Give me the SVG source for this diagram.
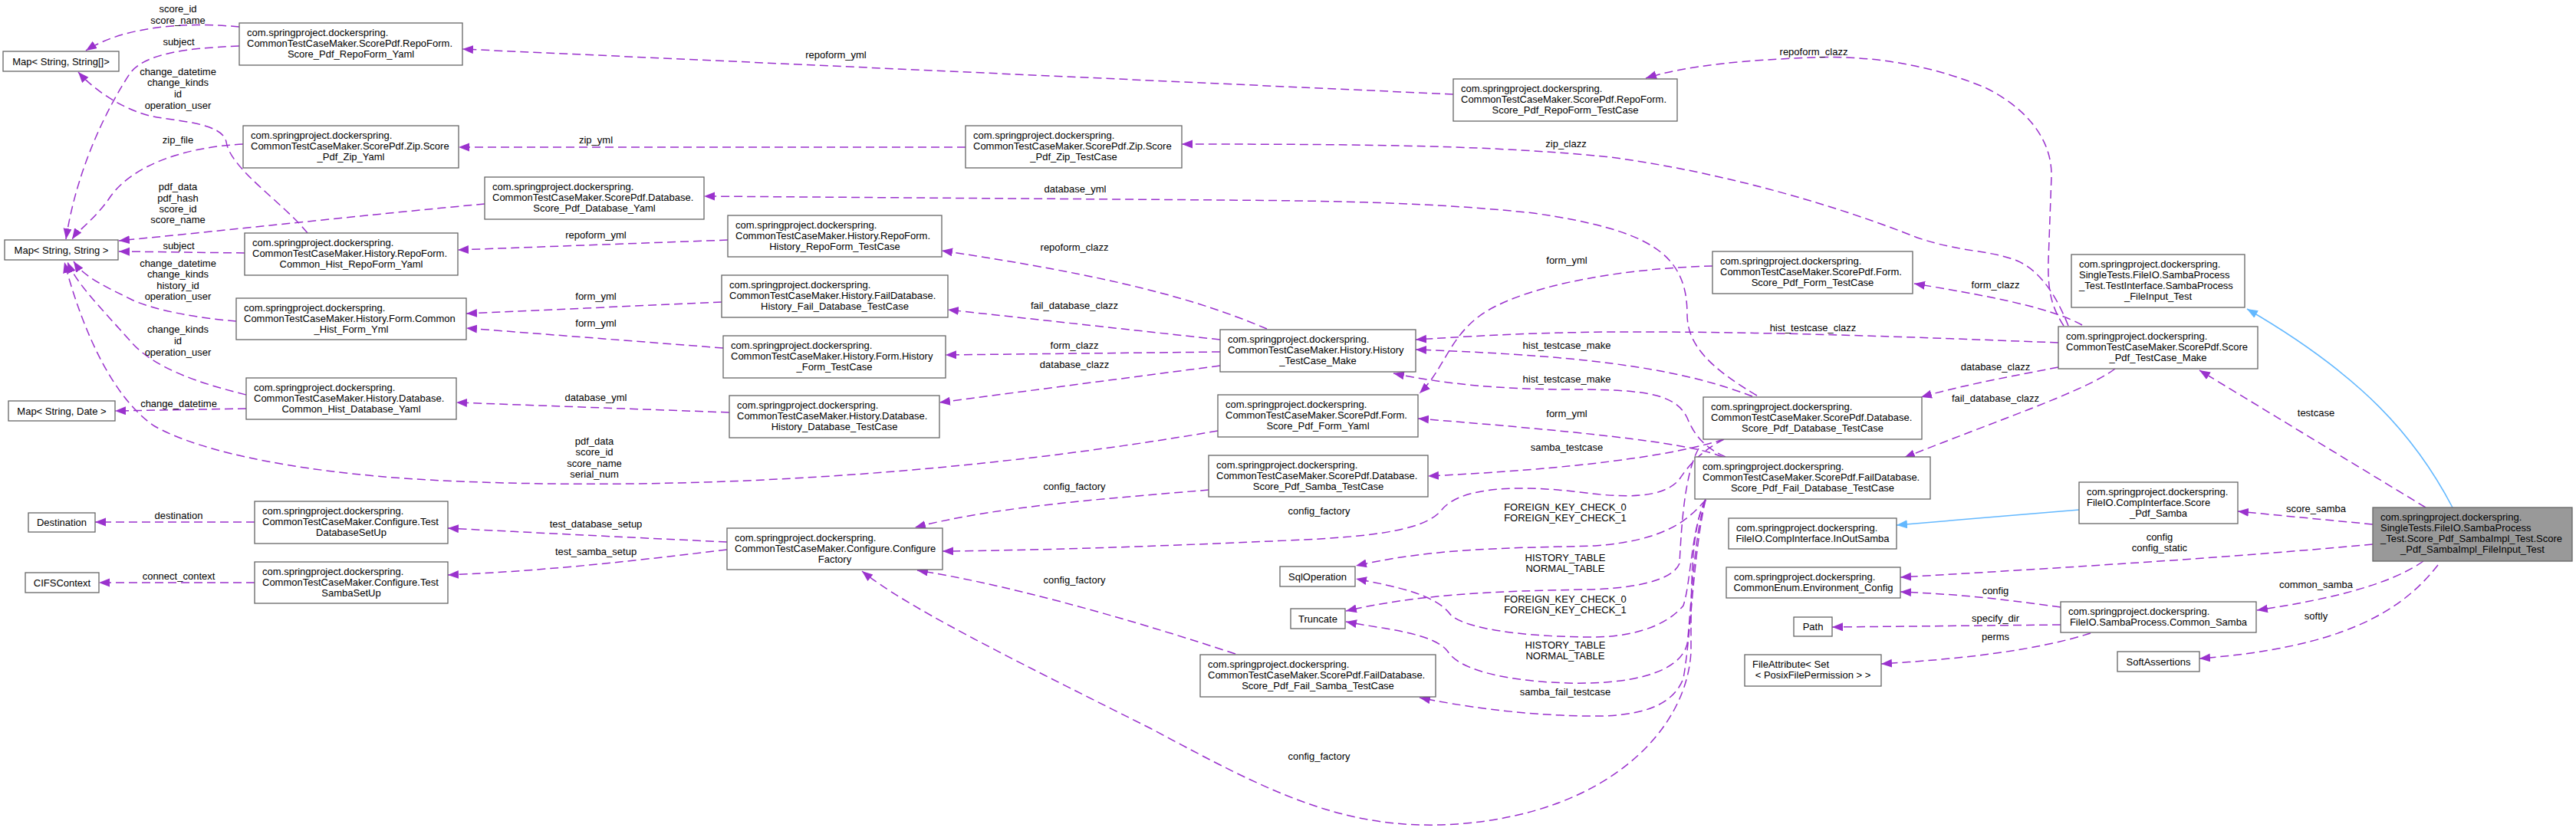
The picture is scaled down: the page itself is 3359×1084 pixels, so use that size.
<svg xmlns="http://www.w3.org/2000/svg" width="3359" height="1084" viewBox="0 0 3359 1084">
<style>
text{font-family:"Liberation Sans",Arial,sans-serif;font-size:13px;fill:#000}
.n rect{fill:#fff;stroke:#666;stroke-width:1.3}
.main rect{fill:#999;stroke:#666;stroke-width:1.3}
.c{text-anchor:middle}
.e{fill:none;stroke:#9a32cd;stroke-width:1.5;stroke-dasharray:11,6;marker-end:url(#ah)}
.i{fill:none;stroke:#63b8ff;stroke-width:1.5;marker-end:url(#ih)}
.el{text-anchor:middle}
</style>
<defs>
<marker id="ah" markerUnits="userSpaceOnUse" markerWidth="15" markerHeight="12" refX="14" refY="5.5" orient="auto"><path d="M0,0 L14,5.5 L0,11 z" fill="#9a32cd"/></marker>
<marker id="ih" markerUnits="userSpaceOnUse" markerWidth="15" markerHeight="12" refX="14" refY="5.5" orient="auto"><path d="M0,0 L14,5.5 L0,11 z" fill="#63b8ff"/></marker>
</defs>
<rect width="3359" height="1084" fill="#fff"/>
<g id="edges">
<path class="e" d="M312,35 C240,28 160,35 112,66"/>
<text class="el" x="232" y="16">score_id</text><text class="el" x="232" y="31">score_name</text>
<path class="e" d="M312,60 C240,63 190,70 170,95 C140,140 100,220 86,312"/>
<text class="el" x="233" y="59">subject</text>
<path class="e" d="M401,304 C370,265 300,220 295,185 C290,160 230,158 200,152 C165,145 125,120 102,94"/>
<text class="el" x="232" y="97.5">change_datetime</text><text class="el" x="232" y="112">change_kinds</text><text class="el" x="232" y="127">id</text><text class="el" x="232" y="141.5">operation_user</text>
<path class="e" d="M317,188 C240,192 175,215 145,255 C125,285 102,300 94,312"/>
<text class="el" x="232" y="187">zip_file</text>
<path class="e" d="M632,266 C480,280 300,300 155,314"/>
<text class="el" x="232" y="248">pdf_data</text><text class="el" x="232" y="263">pdf_hash</text><text class="el" x="232" y="277">score_id</text><text class="el" x="232" y="291">score_name</text>
<path class="e" d="M319,330 L155,328"/>
<text class="el" x="233" y="325">subject</text>
<path class="e" d="M308,419 C260,415 200,405 170,390 C140,375 110,362 96,341"/>
<text class="el" x="232" y="347.5">change_datetime</text><text class="el" x="232" y="362">change_kinds</text><text class="el" x="232" y="376.5">history_id</text><text class="el" x="232" y="391">operation_user</text>
<path class="e" d="M321,515 C260,500 200,480 170,445 C130,400 100,370 88,342"/>
<text class="el" x="232" y="433.5">change_kinds</text><text class="el" x="232" y="448.5">id</text><text class="el" x="232" y="463.5">operation_user</text>
<path class="e" d="M321,533 L150,536"/>
<text class="el" x="233" y="530.5">change_datetime</text>
<path class="e" d="M1588,562 C1250,620 900,640 600,628 C400,620 260,590 200,555 C150,520 110,440 84,342"/>
<text class="el" x="775" y="579.5">pdf_data</text><text class="el" x="775" y="594">score_id</text><text class="el" x="775" y="608.5">score_name</text><text class="el" x="775" y="623">serial_num</text>
<path class="e" d="M1895,123 L603,64"/>
<text class="el" x="1090" y="76">repoform_yml</text>
<path class="e" d="M1259,192 L598,192"/>
<text class="el" x="777" y="187">zip_yml</text>
<path class="e" d="M2291,516 C2230,480 2200,450 2200,410 C2200,330 2150,300 2000,278 C1850,262 1700,262 1600,261 L918,256"/>
<text class="el" x="1402" y="251">database_yml</text>
<path class="e" d="M1652,429 C1560,390 1450,360 1228,327"/>
<text class="el" x="1401" y="327">repoform_clazz</text>
<path class="e" d="M1591,443 L1236,404"/>
<text class="el" x="1401" y="403">fail_database_clazz</text>
<path class="e" d="M1591,459 L1233,463"/>
<text class="el" x="1401" y="455">form_clazz</text>
<path class="e" d="M1591,477 L1225,525"/>
<text class="el" x="1401" y="480">database_clazz</text>
<path class="e" d="M949,313 L597,326"/>
<text class="el" x="777" y="311">repoform_yml</text>
<path class="e" d="M941,394 L608,409"/>
<text class="el" x="777" y="391">form_yml</text>
<path class="e" d="M943,454 L608,428"/>
<text class="el" x="777" y="426">form_yml</text>
<path class="e" d="M951,538 L595,525"/>
<text class="el" x="777" y="523">database_yml</text>
<path class="e" d="M2691,425 C2675,400 2670,380 2671,340 L2675,230 C2676,180 2640,140 2590,115 C2520,85 2440,72 2366,75 C2280,78 2200,85 2146,102"/>
<text class="el" x="2365" y="72">repoform_clazz</text>
<path class="e" d="M2697,425 C2685,395 2665,355 2630,340 C2590,325 2560,330 2500,310 C2400,270 2250,225 2100,205 C1950,190 1800,188 1541,188"/>
<text class="el" x="2042" y="192">zip_clazz</text>
<path class="e" d="M2715,424 C2680,405 2620,390 2496,370"/>
<text class="el" x="2602" y="376">form_clazz</text>
<path class="e" d="M2684,447 C2500,440 2300,432 2100,433 C1980,434 1900,440 1846,443"/>
<text class="el" x="2364" y="432">hist_testcase_clazz</text>
<path class="e" d="M2684,479 C2600,495 2550,505 2505,518"/>
<text class="el" x="2602" y="483">database_clazz</text>
<path class="e" d="M2758,481 C2720,510 2600,550 2483,597"/>
<text class="el" x="2602" y="524">fail_database_clazz</text>
<path class="e" d="M2285,517 C2200,485 2100,465 1846,456"/>
<text class="el" x="2043" y="455">hist_testcase_make</text>
<path class="e" d="M2250,596 C2225,585 2210,570 2200,545 C2185,515 2150,508 2050,508 C1950,508 1880,500 1817,487"/>
<text class="el" x="2043" y="499">hist_testcase_make</text>
<path class="e" d="M2246,596 C2210,580 2100,566 1849,546"/>
<text class="el" x="2043" y="544">form_yml</text>
<path class="e" d="M2233,347 C2120,350 2000,370 1940,405 C1890,435 1885,480 1851,513"/>
<text class="el" x="2043" y="344">form_yml</text>
<path class="e" d="M2248,573 C2180,595 2050,612 1862,621"/>
<text class="el" x="2043" y="588">samba_testcase</text>
<path class="e" d="M1576,639 C1450,650 1300,660 1193,688"/>
<text class="el" x="1401" y="639">config_factory</text>
<path class="e" d="M2248,573 C2215,590 2200,610 2190,625 C2170,650 2120,650 2060,642 C1960,630 1900,640 1880,665 C1860,690 1800,700 1680,705 C1500,713 1350,718 1229,719"/>
<text class="el" x="1720" y="671">config_factory</text>
<path class="e" d="M2224,651 C2205,690 2205,760 2205,850 C2200,950 2100,1060 1900,1075 C1750,1085 1650,1030 1500,950 C1300,850 1180,790 1124,745"/>
<text class="el" x="1720" y="991">config_factory</text>
<path class="e" d="M1611,853 C1450,800 1300,760 1196,744"/>
<text class="el" x="1401" y="761">config_factory</text>
<path class="e" d="M2224,652 C2200,680 2170,705 2080,712 C1960,715 1870,715 1768,738"/>
<text class="el" x="2041" y="666">FOREIGN_KEY_CHECK_0</text><text class="el" x="2041" y="680">FOREIGN_KEY_CHECK_1</text>
<path class="e" d="M2215,585 C2195,620 2192,700 2190,735 C2180,760 2120,768 2070,769 C1950,771 1850,775 1755,797"/>
<text class="el" x="2041" y="732">HISTORY_TABLE</text><text class="el" x="2041" y="746">NORMAL_TABLE</text>
<path class="e" d="M2224,652 C2205,690 2205,760 2195,790 C2170,820 2120,832 2071,831 C1960,830 1900,815 1890,800 C1870,775 1820,765 1768,755"/>
<text class="el" x="2041" y="786">FOREIGN_KEY_CHECK_0</text><text class="el" x="2041" y="800">FOREIGN_KEY_CHECK_1</text>
<path class="e" d="M2224,652 C2208,700 2205,800 2200,840 C2190,880 2120,893 2044,891 C1950,888 1900,870 1888,850 C1870,825 1800,820 1755,811"/>
<text class="el" x="2041" y="846">HISTORY_TABLE</text><text class="el" x="2041" y="860">NORMAL_TABLE</text>
<path class="e" d="M2224,652 C2208,720 2205,830 2195,885 C2180,925 2130,935 2071,934 C1980,933 1900,920 1851,910"/>
<text class="el" x="2041" y="907">samba_fail_testcase</text>
<path class="e" d="M3163,662 L2868,483"/>
<text class="el" x="3020" y="543">testcase</text>
<path class="i" d="M3198,662 C3150,570 3080,490 2930,403"/>
<path class="i" d="M2711,665 L2473,685"/>
<path class="e" d="M3094,684 L2918,667"/>
<text class="el" x="3020" y="668">score_samba</text>
<path class="e" d="M3094,710 C2900,728 2700,740 2478,753"/>
<text class="el" x="2816" y="705">config</text><text class="el" x="2816" y="719">config_static</text>
<path class="e" d="M2687,792 C2600,780 2550,775 2478,772"/>
<text class="el" x="2602" y="775">config</text>
<path class="e" d="M2687,815 L2389,818"/>
<text class="el" x="2602" y="811">specify_dir</text>
<path class="e" d="M2726,826 C2650,850 2550,860 2453,866"/>
<text class="el" x="2602" y="835">perms</text>
<path class="e" d="M3160,732 C3120,760 3050,780 2943,796"/>
<text class="el" x="3020" y="767">common_samba</text>
<path class="e" d="M3179,737 C3130,800 3050,845 2868,859"/>
<text class="el" x="3020" y="808">softly</text>
<path class="e" d="M332,681 L124,681"/>
<text class="el" x="233" y="677">destination</text>
<path class="e" d="M332,760 L129,760"/>
<text class="el" x="233" y="756">connect_context</text>
<path class="e" d="M948,707 C800,700 700,695 584,689"/>
<text class="el" x="777" y="688">test_database_setup</text>
<path class="e" d="M948,717 C800,735 700,745 584,750"/>
<text class="el" x="777" y="724">test_samba_setup</text>
</g>
<g id="n_map_arr" class="n"><rect x="4" y="67" width="151" height="26"/><text class="c" x="79.5" y="84.5">Map&lt; String, String[]&gt;</text></g>
<g id="n_map_str" class="n"><rect x="6" y="313" width="148" height="26"/><text class="c" x="80" y="330.5">Map&lt; String, String &gt;</text></g>
<g id="n_map_date" class="n"><rect x="11" y="523" width="139" height="26"/><text class="c" x="80.5" y="540.5">Map&lt; String, Date &gt;</text></g>
<g id="n_dest" class="n"><rect x="37" y="669" width="87" height="25"/><text class="c" x="80.5" y="686">Destination</text></g>
<g id="n_cifs" class="n"><rect x="33" y="747" width="96" height="26"/><text class="c" x="81" y="764.5">CIFSContext</text></g>
<g id="n_rf_yaml" class="n"><rect x="312" y="30" width="291" height="55"/><text x="322" y="47">com.springproject.dockerspring.</text><text x="322" y="61">CommonTestCaseMaker.ScorePdf.RepoForm.</text><text class="c" x="457.5" y="75">Score_Pdf_RepoForm_Yaml</text></g>
<g id="n_zip_yaml" class="n"><rect x="317" y="164" width="281" height="55"/><text x="327" y="181">com.springproject.dockerspring.</text><text x="327" y="195">CommonTestCaseMaker.ScorePdf.Zip.Score</text><text class="c" x="457.5" y="209">_Pdf_Zip_Yaml</text></g>
<g id="n_db_yaml" class="n"><rect x="632" y="231" width="286" height="55"/><text x="642" y="248">com.springproject.dockerspring.</text><text x="642" y="262">CommonTestCaseMaker.ScorePdf.Database.</text><text class="c" x="775" y="276">Score_Pdf_Database_Yaml</text></g>
<g id="n_hrf_yaml" class="n"><rect x="319" y="304" width="278" height="55"/><text x="329" y="321">com.springproject.dockerspring.</text><text x="329" y="335">CommonTestCaseMaker.History.RepoForm.</text><text class="c" x="458" y="349">Common_Hist_RepoForm_Yaml</text></g>
<g id="n_hform_yml" class="n"><rect x="308" y="389" width="300" height="54"/><text x="318" y="406">com.springproject.dockerspring.</text><text x="318" y="420">CommonTestCaseMaker.History.Form.Common</text><text class="c" x="458" y="434">_Hist_Form_Yml</text></g>
<g id="n_hdb_yaml" class="n"><rect x="321" y="493" width="274" height="54"/><text x="331" y="510">com.springproject.dockerspring.</text><text x="331" y="524">CommonTestCaseMaker.History.Database.</text><text class="c" x="458" y="538">Common_Hist_Database_Yaml</text></g>
<g id="n_tdb" class="n"><rect x="332" y="654" width="252" height="55"/><text x="342" y="671">com.springproject.dockerspring.</text><text x="342" y="685">CommonTestCaseMaker.Configure.Test</text><text class="c" x="458" y="699">DatabaseSetUp</text></g>
<g id="n_tsmb" class="n"><rect x="332" y="733" width="252" height="54"/><text x="342" y="750">com.springproject.dockerspring.</text><text x="342" y="764">CommonTestCaseMaker.Configure.Test</text><text class="c" x="458" y="778">SambaSetUp</text></g>
<g id="n_zip_tc" class="n"><rect x="1259" y="164" width="282" height="55"/><text x="1269" y="181">com.springproject.dockerspring.</text><text x="1269" y="195">CommonTestCaseMaker.ScorePdf.Zip.Score</text><text class="c" x="1400" y="209">_Pdf_Zip_TestCase</text></g>
<g id="n_hrf_tc" class="n"><rect x="949" y="281" width="279" height="54"/><text x="959" y="298">com.springproject.dockerspring.</text><text x="959" y="312">CommonTestCaseMaker.History.RepoForm.</text><text class="c" x="1088.5" y="326">History_RepoForm_TestCase</text></g>
<g id="n_hfdb_tc" class="n"><rect x="941" y="359" width="295" height="55"/><text x="951" y="376">com.springproject.dockerspring.</text><text x="951" y="390">CommonTestCaseMaker.History.FailDatabase.</text><text class="c" x="1088.5" y="404">History_Fail_Database_TestCase</text></g>
<g id="n_hform_tc" class="n"><rect x="943" y="438" width="290" height="55"/><text x="953" y="455">com.springproject.dockerspring.</text><text x="953" y="469">CommonTestCaseMaker.History.Form.History</text><text class="c" x="1088" y="483">_Form_TestCase</text></g>
<g id="n_hdb_tc" class="n"><rect x="951" y="516" width="274" height="55"/><text x="961" y="533">com.springproject.dockerspring.</text><text x="961" y="547">CommonTestCaseMaker.History.Database.</text><text class="c" x="1088" y="561">History_Database_TestCase</text></g>
<g id="n_factory" class="n"><rect x="948" y="689" width="281" height="54"/><text x="958" y="706">com.springproject.dockerspring.</text><text x="958" y="720">CommonTestCaseMaker.Configure.Configure</text><text class="c" x="1088.5" y="734">Factory</text></g>
<g id="n_rf_tc" class="n"><rect x="1895" y="103" width="292" height="55"/><text x="1905" y="120">com.springproject.dockerspring.</text><text x="1905" y="134">CommonTestCaseMaker.ScorePdf.RepoForm.</text><text class="c" x="2041" y="148">Score_Pdf_RepoForm_TestCase</text></g>
<g id="n_form_tc" class="n"><rect x="2233" y="328" width="261" height="55"/><text x="2243" y="345">com.springproject.dockerspring.</text><text x="2243" y="359">CommonTestCaseMaker.ScorePdf.Form.</text><text class="c" x="2363.5" y="373">Score_Pdf_Form_TestCase</text></g>
<g id="n_hist_make" class="n"><rect x="1591" y="430" width="255" height="55"/><text x="1601" y="447">com.springproject.dockerspring.</text><text x="1601" y="461">CommonTestCaseMaker.History.History</text><text class="c" x="1718.5" y="475">_TestCase_Make</text></g>
<g id="n_form_yaml" class="n"><rect x="1588" y="515" width="261" height="55"/><text x="1598" y="532">com.springproject.dockerspring.</text><text x="1598" y="546">CommonTestCaseMaker.ScorePdf.Form.</text><text class="c" x="1718.5" y="560">Score_Pdf_Form_Yaml</text></g>
<g id="n_samba_tc" class="n"><rect x="1576" y="594" width="286" height="54"/><text x="1586" y="611">com.springproject.dockerspring.</text><text x="1586" y="625">CommonTestCaseMaker.ScorePdf.Database.</text><text class="c" x="1719" y="639">Score_Pdf_Samba_TestCase</text></g>
<g id="n_fsamba_tc" class="n"><rect x="1565" y="854" width="307" height="55"/><text x="1575" y="871">com.springproject.dockerspring.</text><text x="1575" y="885">CommonTestCaseMaker.ScorePdf.FailDatabase.</text><text class="c" x="1718.5" y="899">Score_Pdf_Fail_Samba_TestCase</text></g>
<g id="n_sqlop" class="n"><rect x="1669" y="739" width="98" height="26"/><text class="c" x="1718" y="756.5">SqlOperation</text></g>
<g id="n_truncate" class="n"><rect x="1683" y="794" width="71" height="26"/><text class="c" x="1718.5" y="811.5">Truncate</text></g>
<g id="n_db_tc" class="n"><rect x="2221" y="518" width="285" height="55"/><text x="2231" y="535">com.springproject.dockerspring.</text><text x="2231" y="549">CommonTestCaseMaker.ScorePdf.Database.</text><text class="c" x="2363.5" y="563">Score_Pdf_Database_TestCase</text></g>
<g id="n_fdb_tc" class="n"><rect x="2210" y="596" width="307" height="55"/><text x="2220" y="613">com.springproject.dockerspring.</text><text x="2220" y="627">CommonTestCaseMaker.ScorePdf.FailDatabase.</text><text class="c" x="2363.5" y="641">Score_Pdf_Fail_Database_TestCase</text></g>
<g id="n_inout" class="n"><rect x="2254" y="676" width="219" height="40"/><text x="2264" y="692.5">com.springproject.dockerspring.</text><text class="c" x="2363.5" y="706.5">FileIO.CompInterface.InOutSamba</text></g>
<g id="n_env" class="n"><rect x="2251" y="740" width="227" height="40"/><text x="2261" y="756.5">com.springproject.dockerspring.</text><text class="c" x="2364.5" y="770.5">CommonEnum.Environment_Config</text></g>
<g id="n_path" class="n"><rect x="2339" y="805" width="50" height="25"/><text class="c" x="2364" y="822">Path</text></g>
<g id="n_fattr" class="n"><rect x="2275" y="854" width="178" height="41"/><text x="2285" y="871">FileAttribute&lt; Set</text><text class="c" x="2364" y="885">&lt; PosixFilePermission &gt; &gt;</text></g>
<g id="n_iface" class="n"><rect x="2701" y="332" width="226" height="69"/><text x="2711" y="349">com.springproject.dockerspring.</text><text x="2711" y="363">SingleTests.FileIO.SambaProcess</text><text x="2711" y="377">_Test.TestInterface.SambaProcess</text><text class="c" x="2814" y="391">_FileInput_Test</text></g>
<g id="n_make" class="n"><rect x="2684" y="426" width="260" height="55"/><text x="2694" y="443">com.springproject.dockerspring.</text><text x="2694" y="457">CommonTestCaseMaker.ScorePdf.Score</text><text class="c" x="2814" y="471">_Pdf_TestCase_Make</text></g>
<g id="n_samba" class="n"><rect x="2711" y="629" width="207" height="54"/><text x="2721" y="646">com.springproject.dockerspring.</text><text x="2721" y="660">FileIO.CompInterface.Score</text><text class="c" x="2814.5" y="674">_Pdf_Samba</text></g>
<g id="n_main" class="main"><rect x="3094" y="662" width="260" height="70"/><text x="3104" y="679">com.springproject.dockerspring.</text><text x="3104" y="693">SingleTests.FileIO.SambaProcess</text><text x="3104" y="707">_Test.Score_Pdf_SambaImpl_Test.Score</text><text class="c" x="3224" y="721">_Pdf_SambaImpl_FileInput_Test</text></g>
<g id="n_common_samba" class="n"><rect x="2687" y="785" width="255" height="40"/><text x="2697" y="801.5">com.springproject.dockerspring.</text><text class="c" x="2814.5" y="815.5">FileIO.SambaProcess.Common_Samba</text></g>
<g id="n_soft" class="n"><rect x="2761" y="850" width="107" height="26"/><text class="c" x="2814.5" y="867.5">SoftAssertions</text></g>
</svg>
